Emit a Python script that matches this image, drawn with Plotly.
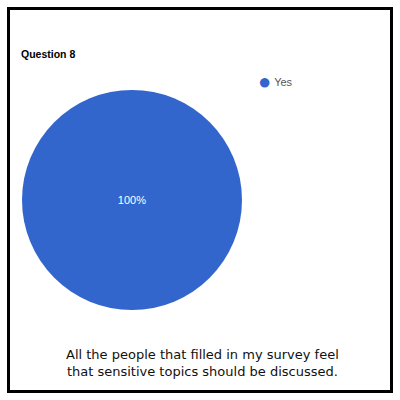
import plotly.graph_objects as go

title = "Question 8"
categories = ["Yes"]
values = [100]
caption_lines = ["All the people that filled in my survey feel",
                 "that sensitive topics should be discussed."]
pie_color = "#3366CC"

W = H = 400
fig = go.Figure()
fig.add_trace(go.Pie(
    labels=categories, values=values, sort=False,
    marker=dict(colors=[pie_color], line=dict(width=0)),
    textinfo="percent", texttemplate="%{percent:.0%}",
    textposition="inside", insidetextorientation="horizontal",
    textfont=dict(color="white", size=11, family="Arial, Liberation Sans"),
    domain=dict(x=[22/W, 242/W], y=[1-310/H, 1-90/H]),
    showlegend=False, hoverinfo="label+percent",
))
for c in categories:
    fig.add_trace(go.Scatter(
        x=[None], y=[None], mode="markers",
        name=(f"<span style='font-size:22px;color:{pie_color};baseline-shift:-3px'>●</span>"
              f" {c}"),
        marker=dict(symbol="circle", size=1, color="rgba(0,0,0,0)"),
        showlegend=True,
    ))

fig.update_layout(
    width=W, height=H,
    margin=dict(l=0, r=0, t=0, b=0),
    paper_bgcolor="white", plot_bgcolor="white",
    xaxis=dict(visible=False), yaxis=dict(visible=False),
    title=dict(text="<b>" + title + "</b>", x=21/W, xanchor="left",
               y=1-54/H, yanchor="middle",
               font=dict(size=10.5, color="#000000", family="Arial, Liberation Sans")),
    legend=dict(x=218/W, y=1-82/H, xanchor="left", yanchor="middle",
                font=dict(size=11, color="#555555", family="Arial, Liberation Sans"),
                itemwidth=30,
                bgcolor="rgba(0,0,0,0)"),
    shapes=[dict(type="rect", xref="paper", yref="paper",
                 x0=8.5/W, x1=391.5/W, y0=1-391.5/H, y1=1-8.5/H,
                 line=dict(color="black", width=3))],
    annotations=[dict(text="<br>".join(caption_lines), xref="paper", yref="paper",
                      x=202/W, y=1-363/H, xanchor="center", yanchor="middle",
                      showarrow=False, align="center",
                      font=dict(size=13, color="#111111", family="DejaVu Sans"))],
)
fig.write_html("out.html", config={"displayModeBar": False},
               post_script="document.body.style.margin='0';")
